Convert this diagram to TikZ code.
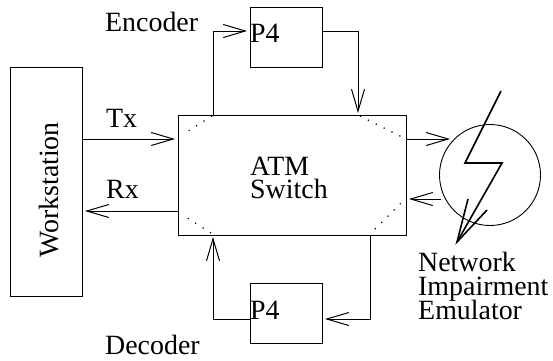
\documentclass[tikz,border=0pt]{standalone}
\usepackage{fontspec}
\setmainfont{Liberation Serif}
\usetikzlibrary{arrows.meta,positioning}
\tikzset{
  x=1bp,y=-1bp,
  lbl/.style={anchor=base west,inner sep=0pt,font=\fontsize{28}{28}\selectfont},
  boxn/.style={draw,line width=1bp,minimum width=#1,inner sep=0pt,anchor=north west},
  conn/.style={line width=1bp,-{Straight Barb[length=22bp,width=13bp]}},
  dots/.style={line width=1.2bp,dash pattern=on 1.2bp off 7.6bp},
  bolt/.style={line width=1.6bp,line join=miter},
}
\begin{document}
\begin{tikzpicture}
\useasboundingbox (0,0) rectangle (553,360);
\node[boxn=72.5bp,minimum height=229bp] (ws) at (9.5,67) {};
\node[boxn=228.5bp,minimum height=120bp] (atm) at (177.5,115) {};
\node[boxn=72.5bp,minimum height=60bp] (p1) at (249.5,7) {};
\node[boxn=72.5bp,minimum height=60bp] (p2) at (249.5,283) {};
\node[draw,circle,line width=0.9bp,minimum size=101bp,inner sep=0pt] (net) at (490,175) {};
\node[lbl] (enc) at (105,31.5) {Encoder};
\node[lbl] (dec) at (105,354) {Decoder};
\node[lbl] (p4a) at (250,42.5) {P4};
\node[lbl] (p4b) at (250,319) {P4};
\node[lbl] (atm1) at (250,175) {ATM};
\node[lbl] (atm2) at (250,198) {Switch};
\node[lbl] (tx) at (106,127) {Tx};
\node[lbl] (rx) at (106,198) {Rx};
\node[lbl,rotate=90] (wst) at (58,258) {Workstation};
\node[lbl] (n1) at (418,271) {Network};
\node[lbl] (n2) at (418,295) {Impairment};
\node[lbl] (n3) at (418,319) {Emulator};
% connectors
\coordinate (tA) at (213,115); \coordinate (tB) at (213,31); \coordinate (tC) at (247,31);
\coordinate (uA) at (358,31); \coordinate (uB) at (358,113);
\coordinate (bA) at (370,235); \coordinate (bB) at (370,319); \coordinate (bC) at (325,319);
\coordinate (cA) at (213,319); \coordinate (cB) at (213,237);
\draw[conn] (tA) -- (tB) -- (tC);
\draw[conn] (p1.east |- uA) -- (uA) -- (uB);
\draw[conn] (bA) -- (bB) -- (bC);
\draw[conn] (p2.west |- cA) -- (cA) -- (cB);
\draw[conn] (ws.east |- 0,139) -- (175,139);
\draw[conn] (atm.west |- 0,211) -- (85,211);
\draw[conn] (atm.east |- 0,139) -- (450,139);
\draw[conn] (441,199) -- (409,199);
% dotted corners
\draw[dots] (212,116) -- (185,133);
\draw[dots] (360,116) -- (404,138);
\draw[dots] (375,229) -- (404,200);
\draw[dots] (211,233) -- (186,217);
% bolt
\draw[bolt] (501,91) -- (465,163) -- (502,163) -- (457,242);
\draw[bolt] (468,199) -- (457,242) -- (487,210);
\end{tikzpicture}
\end{document}
